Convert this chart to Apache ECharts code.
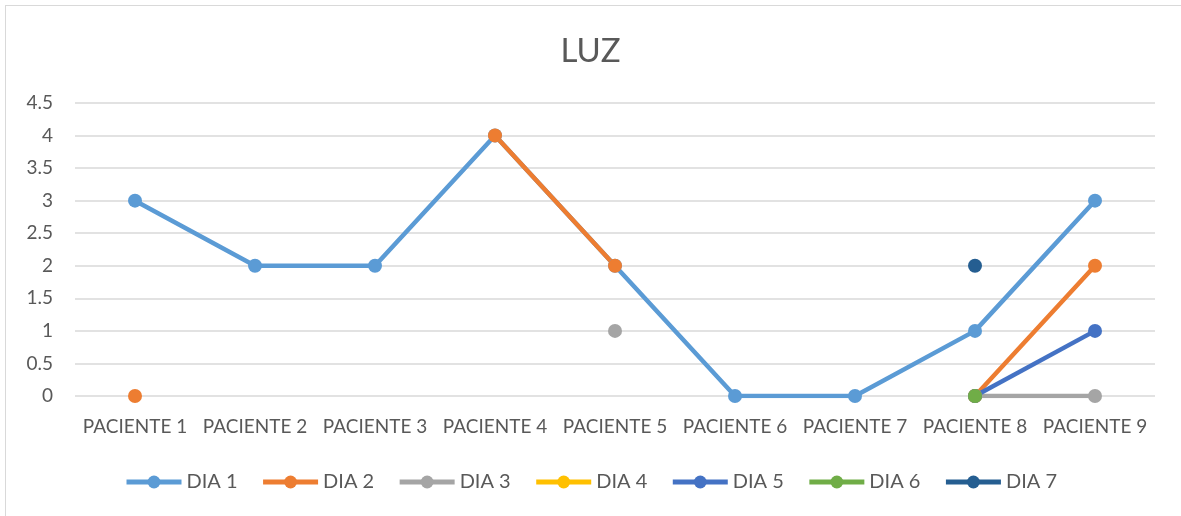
<!DOCTYPE html>
<html>
<head>
<meta charset="utf-8">
<script src="https://cdn.jsdelivr.net/npm/echarts@6/dist/echarts.min.js"></script>
<style>
  html, body { margin: 0; padding: 0; background: #fff; }
  #main { width: 1181px; height: 516px; }
  .frame { position: absolute; left: 5px; top: 5px; width: 1180px; height: 520px; border: 1px solid #d9d9d9; border-width: 1px 0 0 1px; pointer-events: none; }
</style>
</head>
<body>
<div class="frame"></div>
<div id="main"></div>
<script>
var categories = ['PACIENTE 1', 'PACIENTE 2', 'PACIENTE 3', 'PACIENTE 4', 'PACIENTE 5', 'PACIENTE 6', 'PACIENTE 7', 'PACIENTE 8', 'PACIENTE 9'];
var dia1 = [3, 2, 2, 4, 2, 0, 0, 1, 3];
var dia2 = [0, null, null, 4, 2, null, null, 0, 2];
var dia3 = [null, null, null, null, 1, null, null, 0, 0];
var dia4 = [null, null, null, null, null, null, null, 0, null];
var dia5 = [null, null, null, null, null, null, null, 0, 1];
var dia6 = [null, null, null, null, null, null, null, 0, null];
var dia7 = [null, null, null, null, null, null, null, 2, null];
var seriesNames = ['DIA 1', 'DIA 2', 'DIA 3', 'DIA 4', 'DIA 5', 'DIA 6', 'DIA 7'];
var seriesData = [dia1, dia2, dia3, dia4, dia5, dia6, dia7];
var colors = ['#5B9BD5', '#ED7D31', '#A5A5A5', '#FFC000', '#4472C4', '#70AD47', '#255E91'];

var font = 'Lato, "Open Sans", sans-serif';
var myChart = echarts.init(document.getElementById('main'));

myChart.setOption({
    color: colors,
    animation: false,
    title: {
        text: 'LUZ',
        left: 'center',
        top: 30,
        textStyle: { fontFamily: font, fontSize: 33, fontWeight: 'normal', color: '#595959' }
    },
    grid: { left: 75, right: 26, top: 103, bottom: 120 },
    legend: {
        bottom: 19,
        left: 'center',
        itemWidth: 55,
        itemHeight: 16,
        itemGap: 23,
        textStyle: { fontFamily: font, fontSize: 20, color: '#595959' },
        lineStyle: { width: 5 },
        data: seriesNames
    },
    xAxis: {
        type: 'category',
        data: categories,
        boundaryGap: true,
        axisLine: { show: false },
        axisTick: { show: false },
        axisLabel: { fontFamily: font, fontSize: 19, color: '#595959', margin: 21, interval: 0 }
    },
    yAxis: {
        type: 'value',
        min: 0,
        max: 4.5,
        interval: 0.5,
        axisLine: { show: false },
        axisTick: { show: false },
        axisLabel: { fontFamily: font, fontSize: 19, color: '#595959', margin: 22 },
        splitLine: { lineStyle: { color: '#d9d9d9', width: 1.5 } }
    },
    series: seriesData.map(function (d, i) {
        return {
            name: seriesNames[i],
            type: 'line',
            data: d,
            symbol: 'circle',
            symbolSize: 14,
            showAllSymbol: true,
            connectNulls: false,
            lineStyle: { width: 4.5 },
            itemStyle: { color: colors[i] }
        };
    })
});
</script>
</body>
</html>
